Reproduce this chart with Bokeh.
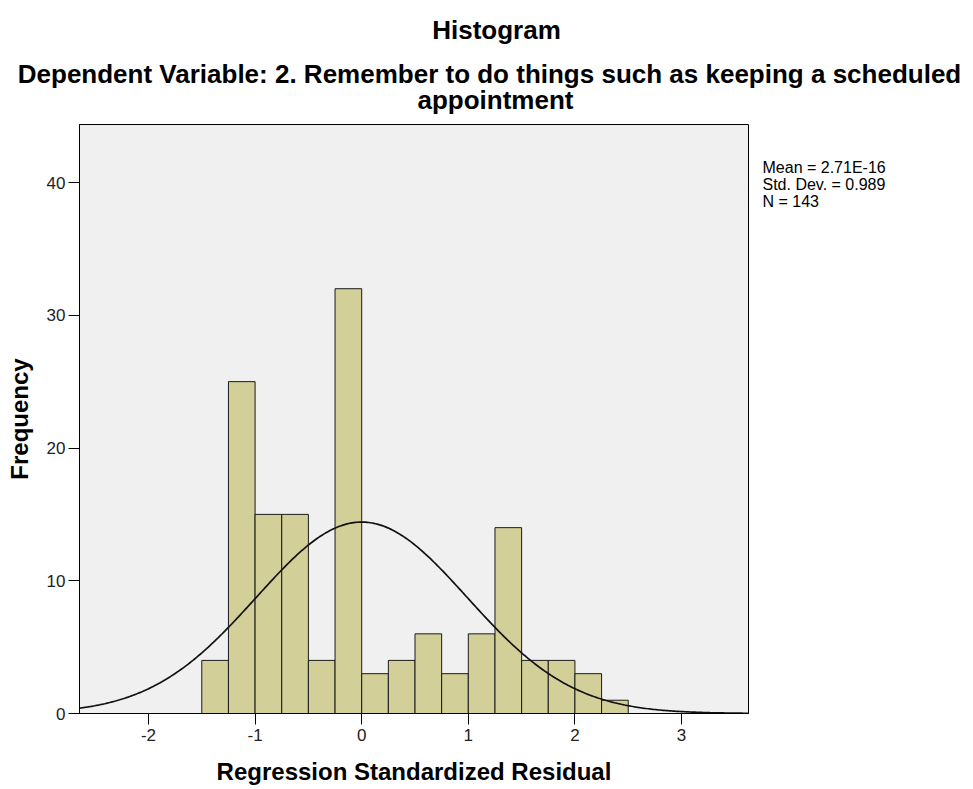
import math
from bokeh.plotting import figure
from bokeh.models import Range1d, FixedTicker, LinearAxis
from bokeh.embed import file_html
from bokeh.resources import INLINE

# ---- data ----
bin_edges = [-1.5, -1.25, -1.0, -0.75, -0.5, -0.25, 0.0, 0.25, 0.5, 0.75,
             1.0, 1.25, 1.5, 1.75, 2.0, 2.25, 2.5]
counts = [4, 25, 15, 15, 4, 32, 3, 4, 6, 3, 6, 14, 4, 4, 3, 1]
x_ticks = [-2, -1, 0, 1, 2, 3]
y_ticks = [0, 10, 20, 30, 40]
mean_val = 2.71e-16
sd_val = 0.989
n_val = 143
stats_lines = ["Mean = 2.71E-16", "Std. Dev. = 0.989", "N = 143"]
title_text = "Histogram"
subtitle_1 = "Dependent Variable: 2. Remember to do things such as keeping a scheduled"
subtitle_2 = "appointment"
x_label = "Regression Standardized Residual"
y_label = "Frequency"

FONT = "Liberation Sans"
X0, X1 = -2.647, 3.628
Y0, Y1 = 0, 44.37
FRAME_L, FRAME_R, FRAME_T, FRAME_B = 79, 748, 124, 713

p = figure(width=973, height=789, output_backend="svg", toolbar_location=None,
           x_range=Range1d(X0, X1), y_range=Range1d(Y0, Y1))
p.min_border_left = FRAME_L
p.min_border_right = 973 - FRAME_R
p.min_border_top = FRAME_T
p.min_border_bottom = 789 - FRAME_B
p.background_fill_color = "#F0F0F0"
p.border_fill_color = "white"
p.outline_line_color = "black"
p.outline_line_width = 1
p.grid.visible = False

# bars
p.quad(left=bin_edges[:-1], right=bin_edges[1:], top=counts, bottom=0,
       fill_color="#D3CF98", line_color="#1a1a1a", line_width=1)

# normal curve derived from the shown mean / sd / N
bw = bin_edges[1] - bin_edges[0]
steps = 400
xs = [X0 + (X1 - X0) * i / steps for i in range(steps + 1)]
amp = n_val * bw / (sd_val * math.sqrt(2 * math.pi))
ys = [amp * math.exp(-0.5 * ((x - mean_val) / sd_val) ** 2) for x in xs]
p.line(xs, ys, line_color="#111111", line_width=1.7)

# main axes
xax = p.below[0]
yax = p.left[0]
for ax in (xax, yax):
    ax.axis_line_color = "black"
    ax.major_tick_line_color = "black"
    ax.major_tick_out = 11
    ax.major_tick_in = 0
    ax.minor_tick_line_color = None
    ax.major_label_text_font = FONT
    ax.major_label_text_font_size = "17px"
    ax.major_label_text_color = "#222222"
    ax.axis_label_text_font = FONT
    ax.axis_label_text_font_size = "24px"
    ax.axis_label_text_font_style = "bold"
    ax.axis_label_text_color = "black"

xax.ticker = FixedTicker(ticks=x_ticks)
yax.ticker = FixedTicker(ticks=y_ticks)
xax.major_label_overrides = {t: str(t) for t in x_ticks}
xax.axis_label = x_label
yax.axis_label = y_label
xax.major_label_standoff = 4
xax.axis_label_standoff = 14
yax.major_label_standoff = 3
yax.axis_label_standoff = 11

sx = (FRAME_R - FRAME_L) / (X1 - X0)
sy = (FRAME_B - FRAME_T) / (Y1 - Y0)

def text_axis(ticks, labels, size, bold, standoff, color="black"):
    return LinearAxis(ticker=FixedTicker(ticks=ticks),
                      major_label_overrides={v: s for v, s in zip(ticks, labels)},
                      axis_line_color=None, major_tick_line_color=None,
                      minor_tick_line_color=None, major_tick_out=0, major_tick_in=0,
                      major_label_standoff=standoff, major_label_text_font=FONT,
                      major_label_text_font_size=size,
                      major_label_text_font_style="bold" if bold else "normal",
                      major_label_text_color=color)

# statistics box on the right
stat_y = [Y0 + (FRAME_B - py) / sy for py in (167, 184, 201)]
p.add_layout(text_axis(stat_y, stats_lines, "16px", False, 14), "right")

# title lines above the frame, centred on the canvas
def xpos(px):
    return X0 + (px - FRAME_L) / sx

p.add_layout(text_axis([xpos(495)], [subtitle_2], "26px", True, 10), "above")
p.add_layout(text_axis([xpos(489)], [subtitle_1], "26px", True, -7), "above")
p.add_layout(text_axis([xpos(496)], [title_text], "26px", True, 11), "above")

open("out.html", "w").write(file_html(p, INLINE))
